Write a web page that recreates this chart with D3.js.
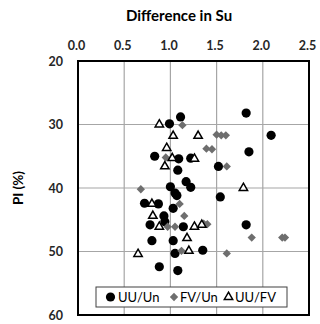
<!DOCTYPE html>
<html><head><meta charset="utf-8">
<script src="https://cdn.jsdelivr.net/npm/d3@7"></script>
<style>body{margin:0;background:#fff}svg{display:block}</style>
</head><body><svg id="c" width="320" height="324"></svg>
<script>
const xTicks = [0, 0.5, 1.0, 1.5, 2.0, 2.5];
const yTicks = [20, 30, 40, 50, 60];
const seriesNames = ["UU/Un", "FV/Un", "UU/FV"];
const uuUn = [
  [0.99,29.9],[1.11,28.8],[0.83,35.0],[1.09,35.4],[1.22,35.3],[1.08,37.2],[1.17,39.0],
  [1.22,39.9],[1.00,39.8],[1.05,40.8],[1.07,41.2],[1.82,28.2],[2.09,31.7],[1.85,34.3],
  [1.52,36.6],[1.54,41.4],[1.82,45.8],[0.72,42.4],[0.87,42.5],[1.03,43.2],[0.93,44.4],
  [0.78,45.8],[0.94,45.3],[1.14,46.1],[0.80,48.3],[1.03,48.3],[1.05,50.3],[1.35,49.8],
  [0.88,52.4],[1.08,53.0]
];
const fvUn = [
  [0.68,40.2],[1.13,30.1],[0.95,35.2],[1.50,31.6],[1.55,31.7],[1.60,31.7],[1.39,33.8],
  [1.45,33.9],[1.61,36.6],[1.10,42.5],[1.15,44.4],[0.97,46.1],[1.05,46.1],[1.36,45.6],
  [1.40,45.7],[1.88,47.8],[2.21,47.8],[2.24,47.8],[1.12,49.9],[1.61,50.3]
];
const uuFv = [
  [0.88,30.0],[1.03,31.8],[1.30,31.8],[0.96,33.7],[1.02,35.3],[1.26,35.4],[0.94,36.6],
  [1.79,40.0],[0.80,42.5],[0.81,44.4],[0.88,46.1],[1.26,46.1],[1.34,45.8],[1.18,47.9],
  [1.20,49.9],[0.65,50.4]
];

const svg = d3.select("#c");
const L = 78, R = 309, T = 61, B = 315;
const x = d3.scaleLinear().domain([0, 2.5]).range([L, R]);
const y = d3.scaleLinear().domain([20, 60]).range([T, B]);
const font = "Lato, 'Open Sans', sans-serif";

// grid
svg.append("g").selectAll("line").data(xTicks.slice(1, -1)).join("line")
  .attr("x1", d => x(d)).attr("x2", d => x(d)).attr("y1", T).attr("y2", B)
  .attr("stroke", "#a6a6a6").attr("stroke-width", 1.2);
svg.append("g").selectAll("line").data(yTicks.slice(1, -1)).join("line")
  .attr("y1", d => y(d)).attr("y2", d => y(d)).attr("x1", L).attr("x2", R)
  .attr("stroke", "#a6a6a6").attr("stroke-width", 1.2);

// axes (top x, left y)
const xa = svg.append("g").attr("transform", `translate(0,${T})`)
  .call(d3.axisTop(x).tickValues(xTicks).tickFormat(d3.format(".1f")).tickSize(0).tickPadding(11));
const ya = svg.append("g").attr("transform", `translate(${L},0)`)
  .call(d3.axisLeft(y).tickValues(yTicks).tickFormat(d3.format("d")).tickSize(0).tickPadding(15));
[xa, ya].forEach(a => {
  a.select(".domain").remove();
  a.selectAll("text").attr("font-family", font).attr("font-weight", "bold")
    .attr("font-size", 12.5).attr("fill", "#262626");
});
xa.selectAll("text").attr("dx", -2);

// border
svg.append("rect").attr("x", L).attr("y", T).attr("width", R - L).attr("height", B - T)
  .attr("fill", "none").attr("stroke", "#000").attr("stroke-width", 2);

// titles
svg.append("text").attr("x", 179).attr("y", 21).attr("text-anchor", "middle")
  .attr("font-family", font).attr("font-weight", "bold").attr("font-size", 15)
  .attr("fill", "#000").text("Difference in Su");
svg.append("text").attr("transform", "translate(23,188) rotate(-90)").attr("text-anchor", "middle")
  .attr("font-family", font).attr("font-weight", "bold").attr("font-size", 13.5)
  .attr("fill", "#000").text("PI  (%)");

// markers
const gray = "#6e6e6e";
const diamond = d3.symbol().type(d3.symbolDiamond2).size(44);
const tri = d3.symbol().type(d3.symbolTriangle2).size(50);
svg.append("g").selectAll("circle").data(uuUn).join("circle")
  .attr("cx", d => x(d[0])).attr("cy", d => y(d[1])).attr("r", 4.6).attr("fill", "#000");
svg.append("g").selectAll("path").data(fvUn).join("path")
  .attr("d", diamond).attr("transform", d => `translate(${x(d[0])},${y(d[1])})`)
  .attr("fill", gray);
svg.append("g").selectAll("path").data(uuFv).join("path")
  .attr("d", tri).attr("transform", d => `translate(${x(d[0])},${y(d[1])})`)
  .attr("fill", "#fff").attr("stroke", "#000").attr("stroke-width", 1.5);

// legend
const lg = svg.append("g");
lg.append("rect").attr("x", 96).attr("y", 287).attr("width", 191).attr("height", 20)
  .attr("fill", "#fff").attr("stroke", "#404040").attr("stroke-width", 1);
const ly = 297;
const items = [
  {name: seriesNames[0], mx: 110.5, tx: 118},
  {name: seriesNames[1], mx: 174, tx: 180},
  {name: seriesNames[2], mx: 228.5, tx: 235}
];
lg.append("circle").attr("cx", items[0].mx).attr("cy", ly).attr("r", 4.6).attr("fill", "#000");
lg.append("path").attr("d", diamond).attr("transform", `translate(${items[1].mx},${ly})`).attr("fill", gray);
lg.append("path").attr("d", tri).attr("transform", `translate(${items[2].mx},${ly})`)
  .attr("fill", "#fff").attr("stroke", "#000").attr("stroke-width", 1.5);
lg.selectAll("text").data(items).join("text")
  .attr("x", d => d.tx).attr("y", ly + 4.5).attr("font-family", font).attr("font-size", 13)
  .attr("fill", "#000").text(d => d.name);
</script></body></html>
